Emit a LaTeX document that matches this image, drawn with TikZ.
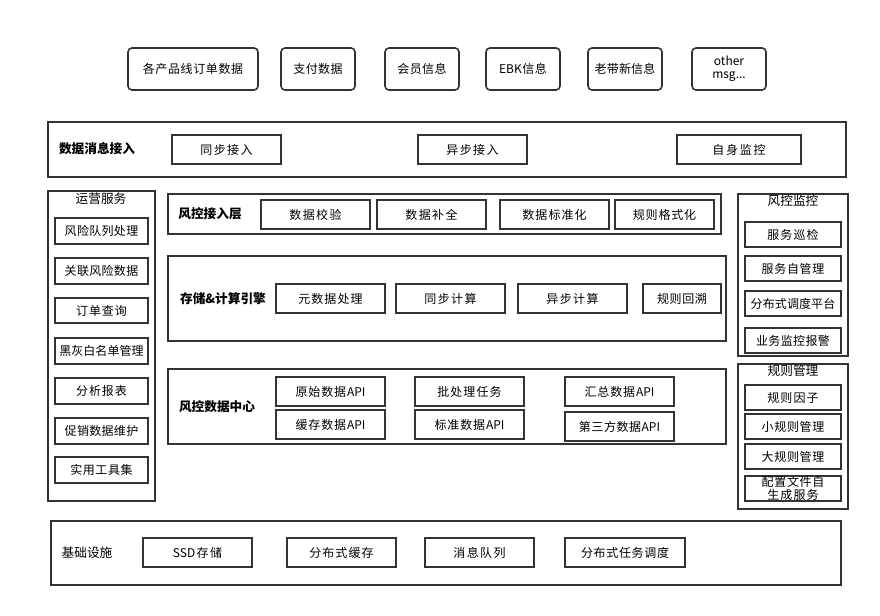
\documentclass[tikz,border=0pt]{standalone}
\usepackage{fontspec}
\setmainfont{Noto Sans CJK SC}
\XeTeXlinebreaklocale "zh"
\XeTeXlinebreakskip=0pt plus 1pt
\begin{document}
\begin{tikzpicture}[x=0.75pt,y=-0.75pt,
  box/.style={draw=black!80,line width=1.2pt,inner sep=0pt,align=center,font=\fontsize{9}{9.5}\selectfont},
  rbox/.style={box,rounded corners=3pt},
  frame/.style={draw=black!80,line width=1.3pt},
  lab/.style={font=\fontsize{9.5}{10}\selectfont\bfseries},
  tit/.style={font=\fontsize{9.5}{10}\selectfont}]
\useasboundingbox (0,0) rectangle (880,616);
\newcommand\bx[7][box]{\node[#1,minimum width={(#5-#3)*0.75pt},minimum height={(#6-#4)*0.75pt},text width={(#5-#3-8)*0.75pt}] (#2) at ({(#3+#5)/2},{(#4+#6)/2}) {#7};}
% top row
\bx[rbox]{t1}{128}{48}{258}{90}{各产品线订单数据}
\bx[rbox]{t2}{281}{48}{355}{90}{支付数据}
\bx[rbox]{t3}{385}{48}{459}{90}{会员信息}
\bx[rbox]{t4}{486}{48}{560}{90}{EBK信息}
\bx[rbox]{t5}{588}{48}{662}{90}{老带新信息}
\bx[rbox]{t6}{692}{48}{766}{90}{other msg...}
% access row
\draw[frame] (48,122) rectangle (846,177);
\node[lab] (l1) at (97,149) {数据消息接入};
\bx{a1}{172}{135}{281}{164}{同步接入}
\bx{a2}{418}{135}{527}{164}{异步接入}
\bx{a3}{677}{135}{801}{164}{自身监控}
% left
\draw[frame] (48,191) rectangle (155,501);
\node[tit] (lt) at (101,199) {运营服务};
\bx{o1}{55}{218}{148}{244}{风险队列处理}
\bx{o2}{55}{258}{148}{284}{关联风险数据}
\bx{o3}{55}{298}{148}{323}{订单查询}
\bx{o4}{55}{338}{148}{364}{黑灰白名单管理}
\bx{o5}{55}{378}{148}{404}{分析报表}
\bx{o6}{55}{418}{148}{444}{促销数据维护}
\bx{o7}{55}{457}{148}{483}{实用工具集}
% 风控接入层
\draw[frame] (168,194) rectangle (721,234);
\node[lab] (l2) at (210,214) {风控接入层};
\bx{b1}{261}{200}{370}{229}{数据校验}
\bx{b2}{377}{200}{486}{229}{数据补全}
\bx{b3}{500}{200}{609}{229}{数据标准化}
\bx{b4}{615}{200}{714}{229}{规则格式化}
% 存储
\draw[frame] (168,256) rectangle (726,341);
\node[lab] (l3) at (223,299) {存储\&计算引擎};
\bx{c1}{276}{284}{385}{313}{元数据处理}
\bx{c2}{396}{284}{505}{313}{同步计算}
\bx{c3}{518}{284}{627}{313}{异步计算}
\bx{c4}{643}{284}{721}{313}{规则回溯}
% 数据中心
\draw[frame] (168,369) rectangle (726,444);
\node[lab] (l4) at (217,407) {风控数据中心};
\bx{d1}{276}{377}{385}{406}{原始数据API}
\bx{d2}{276}{410}{385}{439}{缓存数据API}
\bx{d3}{415}{377}{524}{406}{批处理任务}
\bx{d4}{415}{410}{524}{439}{标准数据API}
\bx{d5}{565}{377}{674}{406}{汇总数据API}
\bx{d6}{565}{412}{674}{441}{第三方数据API}
% 风控监控
\draw[frame] (738,194) rectangle (848,356);
\node[tit] (mt) at (793,201) {风控监控};
\bx{m1}{745}{222}{841}{247}{服务巡检}
\bx{m2}{745}{256}{841}{281}{服务自管理}
\bx{m3}{745}{291}{841}{316}{分布式调度平台}
\bx{m4}{745}{328}{841}{353}{业务监控报警}
% 规则管理
\draw[frame] (738,364) rectangle (848,509);
\node[tit] (rt) at (793,371) {规则管理};
\bx{r1}{745}{385}{841}{410}{规则因子}
\bx{r2}{745}{414}{841}{439}{小规则管理}
\bx{r3}{745}{444}{841}{469}{大规则管理}
\bx{r4}{745}{476}{841}{501}{配置文件自生成服务}
% 基础设施
\draw[frame] (51,521) rectangle (841,585);
\node[tit] (l5) at (87,553) {基础设施};
\bx{e1}{143}{538}{252}{567}{SSD存储}
\bx{e2}{287}{538}{396}{567}{分布式缓存}
\bx{e3}{425}{538}{534}{567}{消息队列}
\bx{e4}{565}{538}{685}{567}{分布式任务调度}
\end{tikzpicture}
\end{document}
